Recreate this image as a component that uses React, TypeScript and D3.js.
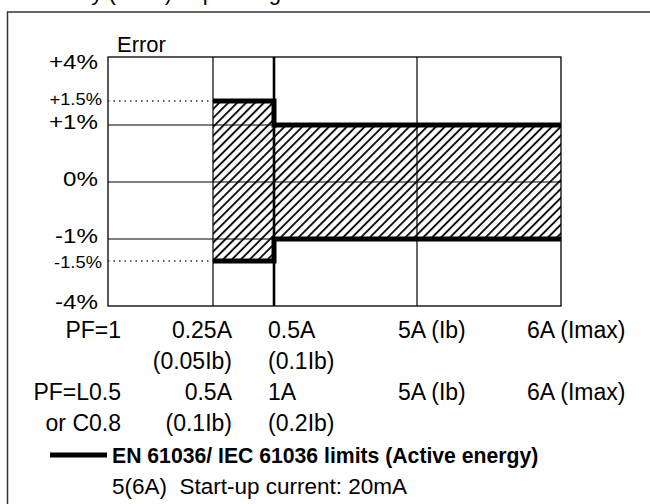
import React from "react";
import * as d3 from "d3";

// ---- data ----
const yTickValues = [4, 1.5, 1, 0, -1, -1.5, -4];
const yMinorTicks = [1.5, -1.5];
const yTickLabels = ["+4%", "+1.5%", "+1%", "0%", "-1%", "-1.5%", "-4%"];
const gridLevels = [1, 0, -1];
const columnEdges = [0, 1, 2, 3, 4];
const upperLimit = [NaN, 1.5, 1, 1]; // per column (start index)
const lowerLimit = [NaN, -1.5, -1, -1];
const rowLabels = ["PF=1", "", "PF=L0.5", "or C0.8"];
const col1Labels = ["0.25A", "(0.05Ib)", "0.5A", "(0.1Ib)"];
const col2Labels = ["0.5A", "(0.1Ib)", "1A", "(0.2Ib)"];
const col3Labels = ["5A (Ib)", "", "5A (Ib)", ""];
const col4Labels = ["6A (Imax)", "", "6A (Imax)", ""];
const titleText = "Accuracy (RDG) depending on the load";
const axisTitle = "Error";
const legendTitle = "EN 61036/ IEC 61036 limits (Active energy)";
const legendNote = "5(6A)  Start-up current: 20mA";

const FONT = "'Liberation Sans', Arial, Helvetica, sans-serif";

export default function App() {
  const y = d3
    .scaleLinear()
    .domain([-4, -1.5, -1, 0, 1, 1.5, 4])
    .range([306, 261, 239, 182, 125, 101, 57]);
  const x = d3
    .scaleLinear()
    .domain([0, 1, 2, 3, 4])
    .range([108, 213, 274, 417, 561]);

  const left = x(0);
  const right = x(4);
  const top = y(4);
  const bottom = y(-4);

  const stepLine = d3
    .line<[number, number]>()
    .x((d) => x(d[0]))
    .y((d) => y(d[1]))
    .curve(d3.curveStepAfter);
  const upperPts: [number, number][] = [];
  const lowerPts: [number, number][] = [];
  for (let i = 1; i < upperLimit.length; i++) {
    upperPts.push([i, upperLimit[i]]);
    lowerPts.push([i, lowerLimit[i]]);
  }
  upperPts.push([4, upperLimit[upperLimit.length - 1]]);
  lowerPts.push([4, lowerLimit[lowerLimit.length - 1]]);

  const area = d3
    .area<[number, number, number]>()
    .x((d) => x(d[0]))
    .y0((d) => y(d[2]))
    .y1((d) => y(d[1]))
    .curve(d3.curveStepAfter);
  const areaPts: [number, number, number][] = [];
  for (let i = 1; i < upperLimit.length; i++) areaPts.push([i, upperLimit[i], lowerLimit[i]]);
  areaPts.push([4, upperLimit[upperLimit.length - 1], lowerLimit[lowerLimit.length - 1]]);

  const rowBaselines = [338, 369, 400, 431];

  const yLabelBaseline = (v: number) => {
    if (v === 4) return y(v) + 12;
    if (v === -4) return y(v) + 3;
    if (yMinorTicks.includes(v)) return y(v) + (v > 0 ? 4 : 7);
    return y(v) + 4;
  };

  return (
    <svg
      width={650}
      height={504}
      style={{ position: "absolute", left: 0, top: 0, background: "#fff" }}
      fontFamily={FONT}
    >
      <defs>
        <pattern
          id="hatch"
          patternUnits="userSpaceOnUse"
          width={6.3}
          height={6.3}
          patternTransform="rotate(45)"
        >
          <line x1={1} y1={0} x2={1} y2={6.3} stroke="#000" strokeWidth={1.8} />
        </pattern>
      </defs>
      <rect x={0} y={0} width={650} height={504} fill="#fff" />

      {/* title, cut at top as in the reference */}
      <text x={12} y={0} fontSize={22} fill="#000">
        {titleText}
      </text>

      {/* outer frame */}
      <rect x={7.5} y={12} width={700} height={600} fill="none" stroke="#333" strokeWidth={1.5} />

      {/* hatched zone */}
      <path d={area(areaPts) || ""} fill="url(#hatch)" />

      {/* grid */}
      {gridLevels.map((g) => (
        <line key={"g" + g} x1={left} x2={right} y1={y(g)} y2={y(g)} stroke="#000" strokeWidth={1.2} />
      ))}
      {columnEdges.slice(1, 4).map((c) => (
        <line
          key={"c" + c}
          x1={x(c)}
          x2={x(c)}
          y1={top}
          y2={bottom}
          stroke="#000"
          strokeWidth={c === 2 ? 2.6 : 1.2}
        />
      ))}
      <rect x={left} y={top} width={right - left} height={bottom - top} fill="none" stroke="#000" strokeWidth={1.3} />

      {/* dotted guide lines to ±1.5 */}
      {yMinorTicks.map((v) => (
        <line
          key={"d" + v}
          x1={left}
          x2={x(1)}
          y1={y(v)}
          y2={y(v)}
          stroke="#333"
          strokeWidth={1.5}
          strokeDasharray="1.5 4"
        />
      ))}

      {/* limit lines */}
      <path d={stepLine(upperPts) || ""} fill="none" stroke="#000" strokeWidth={5} strokeLinejoin="miter" />
      <path d={stepLine(lowerPts) || ""} fill="none" stroke="#000" strokeWidth={5} strokeLinejoin="miter" />

      {/* y labels */}
      {yTickValues.map((v, i) => {
        const minor = yMinorTicks.includes(v);
        const fx = minor ? 102 : 98;
        return (
          <text
            key={"yl" + v}
            transform={`translate(${fx},${yLabelBaseline(v)}) scale(${minor ? 1.08 : 1.15},1)`}
            textAnchor="end"
            fontSize={minor ? 17 : 21}
            fill="#000"
          >
            {yTickLabels[i]}
          </text>
        );
      })}

      <text x={117} y={52} fontSize={22} fill="#000">
        {axisTitle}
      </text>

      {/* x labels */}
      {rowBaselines.map((b, r) => (
        <g key={"row" + r} fontSize={23} fill="#000">
          <text x={121} y={b} textAnchor="end">
            {rowLabels[r]}
          </text>
          <text x={x(1) + 19} y={b} textAnchor="end">
            {col1Labels[r]}
          </text>
          <text x={x(2) - 6} y={b}>
            {col2Labels[r]}
          </text>
          <text x={x(3) - 19} y={b}>
            {col3Labels[r]}
          </text>
          <text x={x(4) - 34} y={b}>
            {col4Labels[r]}
          </text>
        </g>
      ))}

      {/* legend */}
      <line x1={50} x2={107} y1={455} y2={455} stroke="#000" strokeWidth={5} />
      <text x={112} y={463} fontSize={21.2} fontWeight="bold" fill="#000">
        {legendTitle}
      </text>
      <text x={112} y={494} fontSize={22.5} fill="#000" style={{ whiteSpace: "pre" }}>
        {legendNote}
      </text>
    </svg>
  );
}
